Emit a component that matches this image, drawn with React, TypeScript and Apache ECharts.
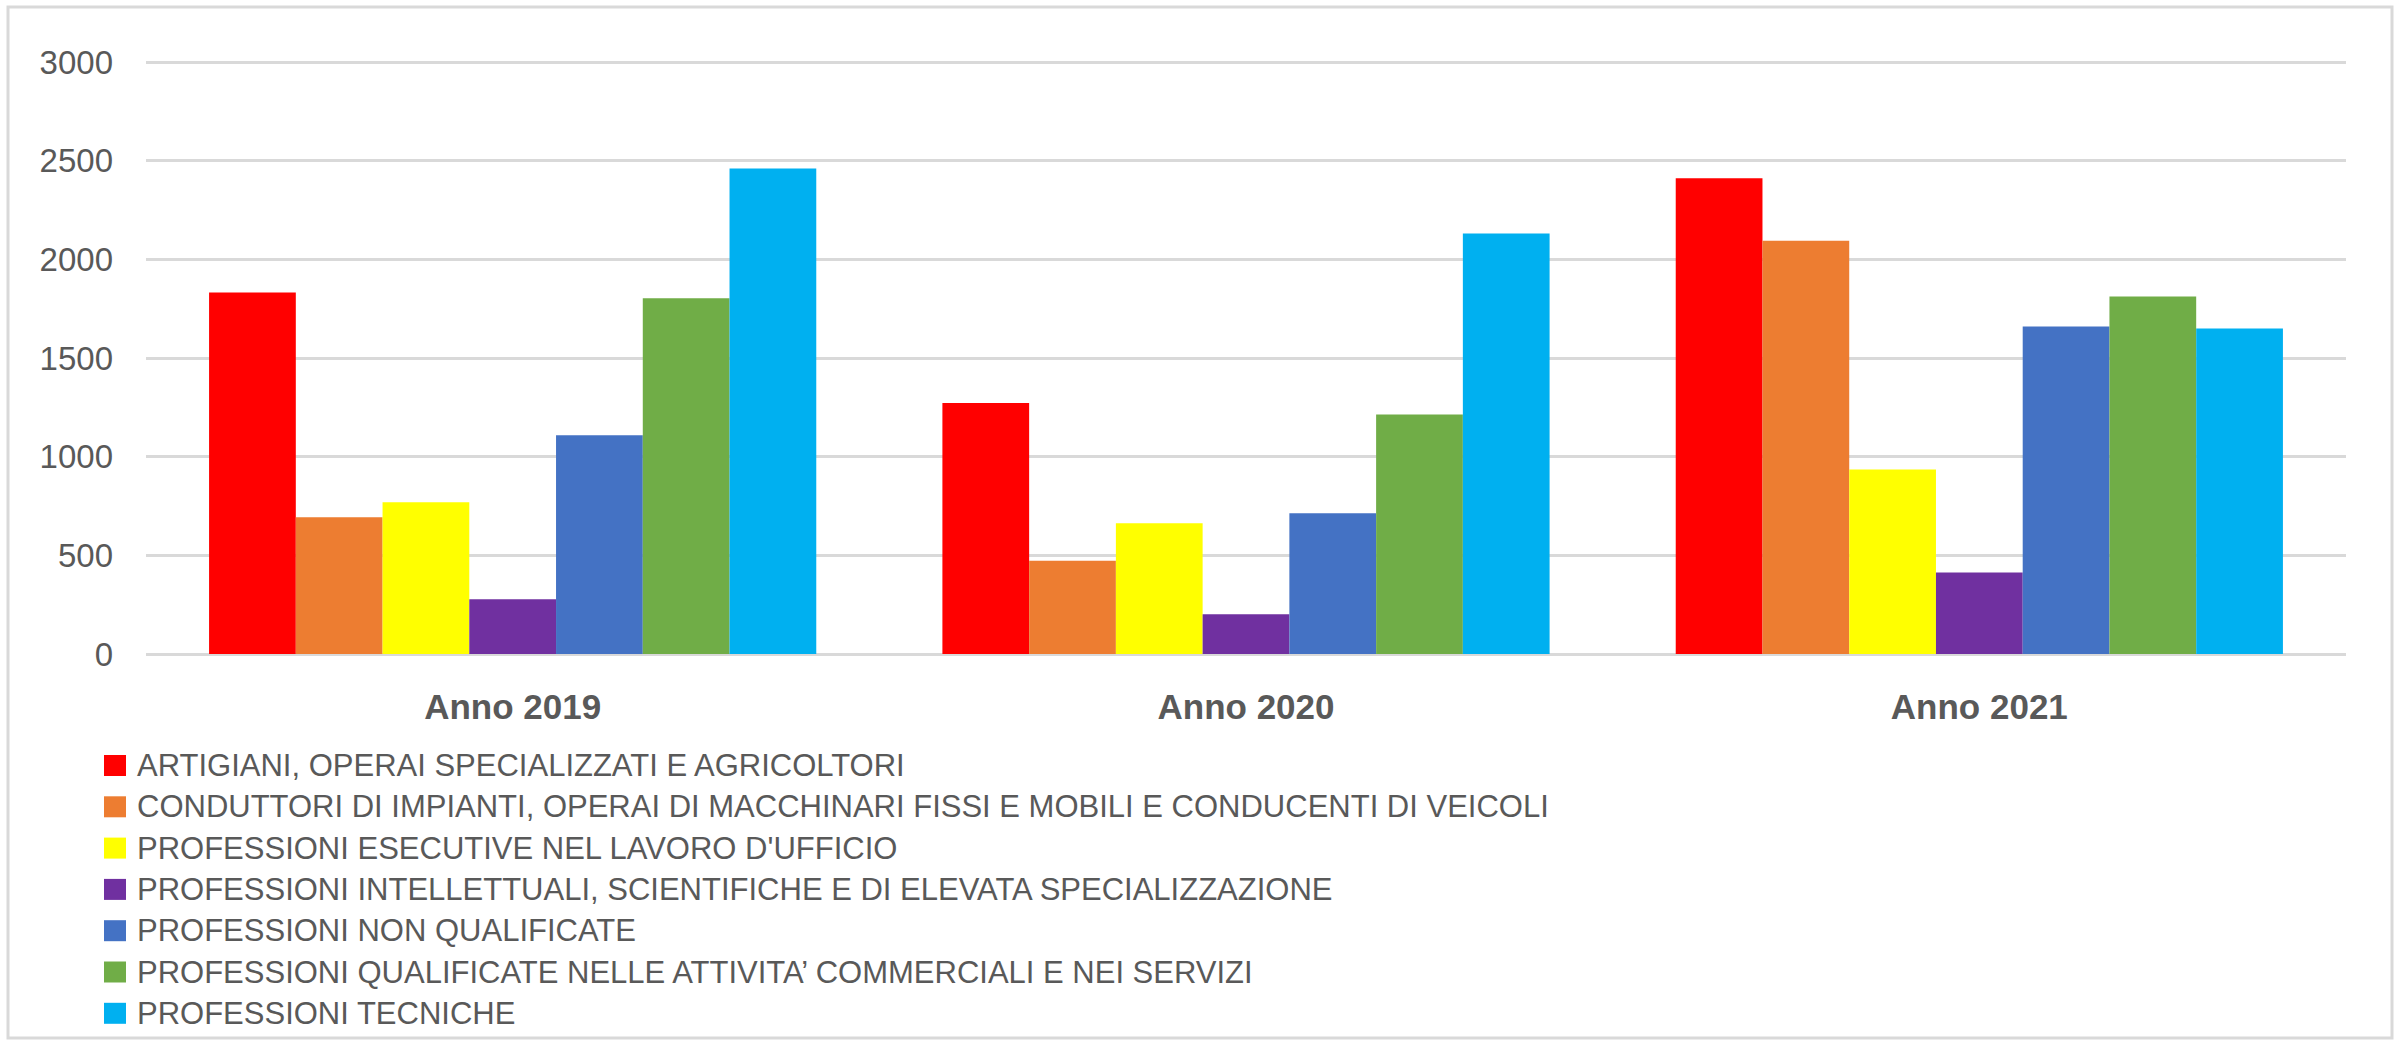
import React, { useEffect, useRef } from "react";
import * as echarts from "echarts";

const categories = ["Anno 2019", "Anno 2020", "Anno 2021"];
const seriesNames = [
  "ARTIGIANI, OPERAI SPECIALIZZATI E AGRICOLTORI",
  "CONDUTTORI DI IMPIANTI, OPERAI DI MACCHINARI FISSI E MOBILI E CONDUCENTI DI VEICOLI",
  "PROFESSIONI ESECUTIVE NEL LAVORO D'UFFICIO",
  "PROFESSIONI INTELLETTUALI, SCIENTIFICHE E DI ELEVATA SPECIALIZZAZIONE",
  "PROFESSIONI NON QUALIFICATE",
  "PROFESSIONI QUALIFICATE NELLE ATTIVITA\u2019 COMMERCIALI E NEI SERVIZI",
  "PROFESSIONI TECNICHE",
];
const artigiani = [1832, 1272, 2411];
const conduttori = [693, 472, 2094];
const esecutive = [769, 663, 935];
const intellettuali = [277, 201, 413];
const nonQualificate = [1109, 713, 1659];
const qualificate = [1803, 1214, 1812];
const tecniche = [2460, 2131, 1650];
const seriesValues = [artigiani, conduttori, esecutive, intellettuali, nonQualificate, qualificate, tecniche];
const seriesColors = ["#FF0000", "#ED7D31", "#FFFF00", "#7030A0", "#4472C4", "#70AD47", "#00B0F0"];
const yTicks = { min: 0, max: 3000, interval: 500 };

export default function App() {
  const ref = useRef<HTMLDivElement>(null);
  useEffect(() => {
    if (!ref.current) return;
    const chart = echarts.init(ref.current, null, { renderer: "svg" });
    const font = "'Liberation Sans', Arial, sans-serif";
    chart.setOption({
      animation: false,
      backgroundColor: "#ffffff",
      textStyle: { fontFamily: font },
      graphic: [
        {
          type: "rect",
          shape: { x: 8, y: 7, width: 2384, height: 1031 },
          style: { fill: "none", stroke: "#d9d9d9", lineWidth: 3 },
          silent: true,
        },
      ],
      grid: { left: 146, right: 56, top: 62, bottom: 387, containLabel: false },
      xAxis: {
        type: "category",
        data: categories,
        axisLine: { show: false },
        axisTick: { show: false },
        axisLabel: {
          margin: 35,
          fontSize: 35,
          lineHeight: 35,
          fontWeight: "bold",
          color: "#595959",
          fontFamily: font,
        },
      },
      yAxis: {
        type: "value",
        min: yTicks.min,
        max: yTicks.max,
        interval: yTicks.interval,
        axisLine: { show: false },
        axisTick: { show: false },
        splitLine: { lineStyle: { color: "#d9d9d9", width: 3 } },
        axisLabel: {
          margin: 33,
          fontSize: 33,
          color: "#595959",
          fontFamily: font,
          formatter: (v: number) => String(v),
        },
      },
      legend: {
        orient: "vertical",
        left: 104,
        top: 750,
        padding: 0,
        itemWidth: 22,
        itemHeight: 21,
        itemGap: 10.3,
        icon: "rect",
        textStyle: {
          fontSize: 31,
          lineHeight: 30,
          color: "#595959",
          fontFamily: font,
          padding: [0, 0, 0, 6],
        },
        data: seriesNames,
      },
      series: seriesNames.map((name, i) => ({
        name,
        type: "bar",
        data: seriesValues[i],
        barGap: "0%",
        barCategoryGap: "17.2%",
        itemStyle: { color: seriesColors[i] },
      })),
    });
    return () => chart.dispose();
  }, []);
  return (
    <div
      ref={ref}
      style={{ position: "absolute", left: 0, top: 0, width: 2402, height: 1041, background: "#fff" }}
    />
  );
}
